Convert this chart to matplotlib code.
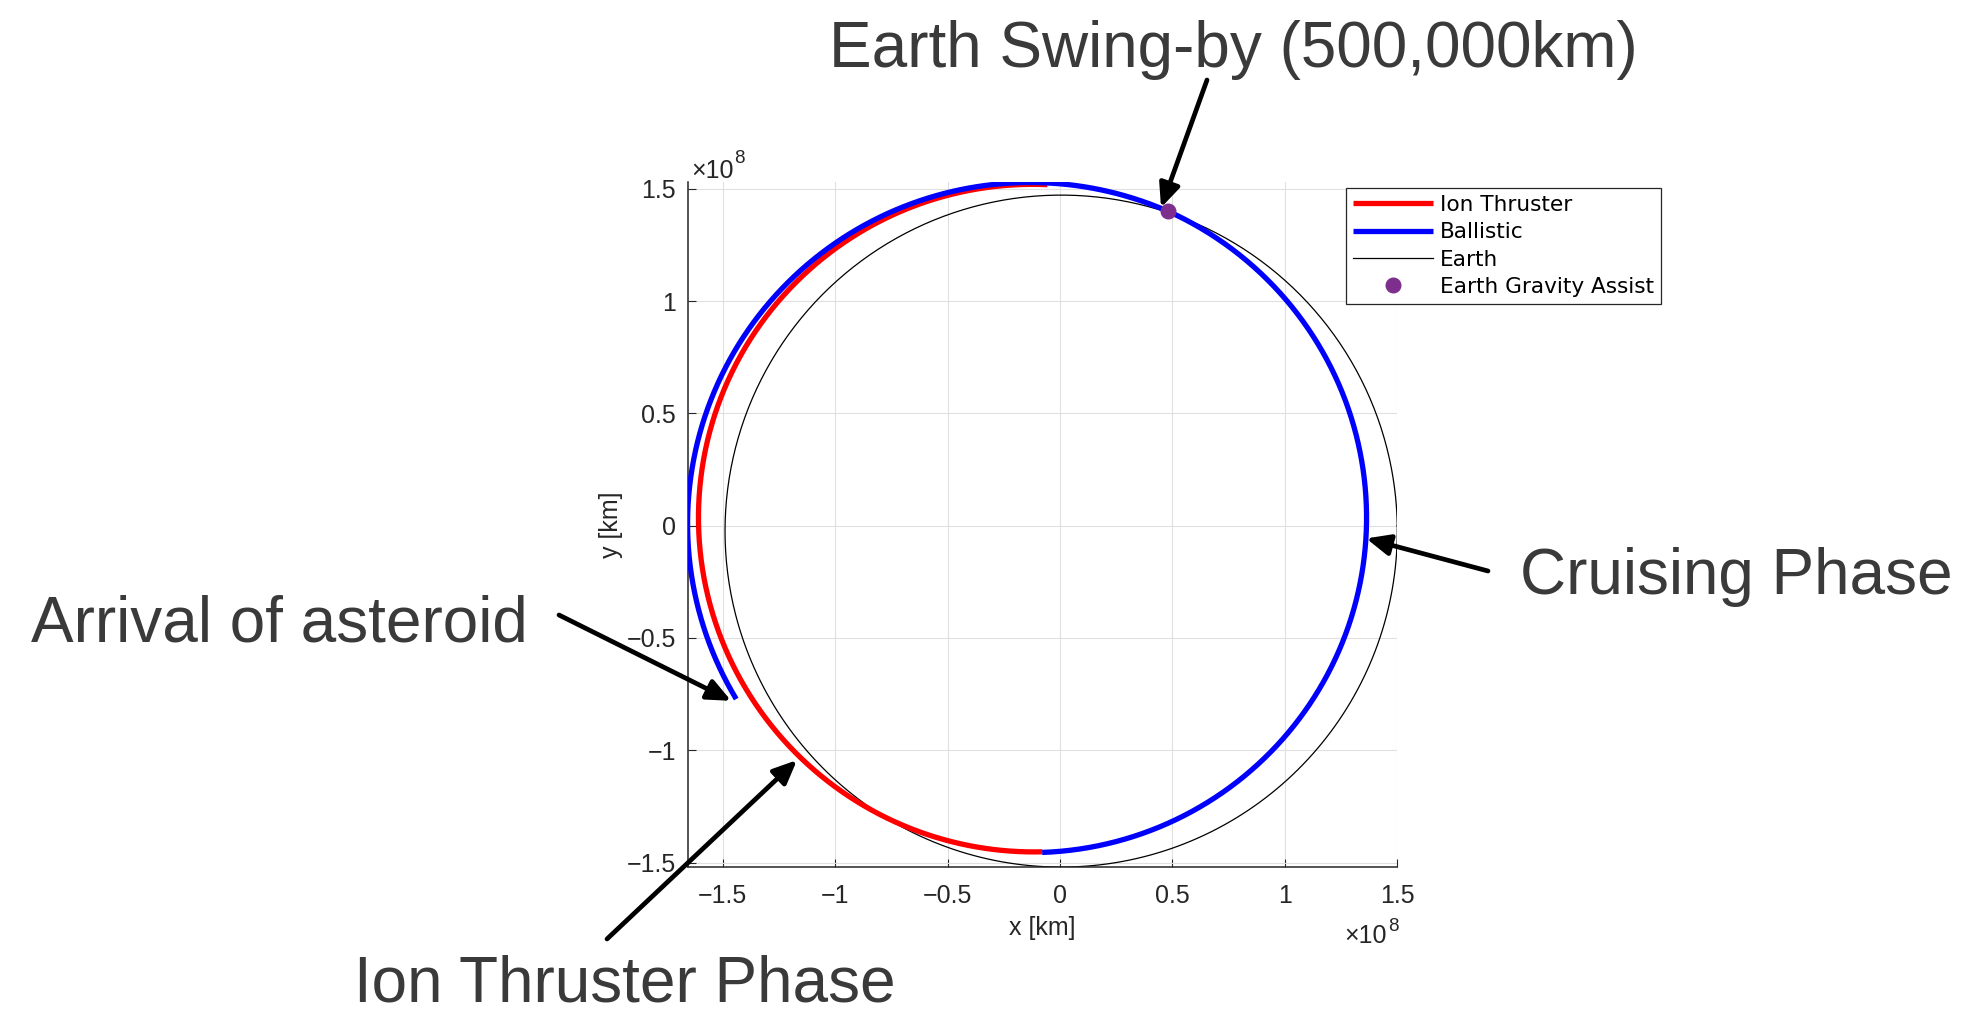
import numpy as np
import matplotlib
matplotlib.use("Agg")
import matplotlib.pyplot as plt
from matplotlib import font_manager
from matplotlib.ticker import MultipleLocator, FuncFormatter

# fonts: narrow sans for the axes (MATLAB look), plain sans for the slide texts
names = {f.name for f in font_manager.fontManager.ttflist}
narrow = 'Liberation Sans Narrow' if 'Liberation Sans Narrow' in names else 'Liberation Sans'
plt.rcParams['font.family'] = [narrow, 'DejaVu Sans']

# ---- data (km) ----
# Earth orbit elements
earth_a = 1.496e8
earth_e = 0.0167
earth_peri_deg = 102.9

# spacecraft arcs as heliocentric conics: r = p / (1 + e cos(theta - peri))
arc_kind = ['ion', 'ballistic', 'ballistic']
arc_p = [1.4808e8, 1.4877e8, 1.5142e8]
arc_e = [0.0822, 0.0942, 0.0863]
arc_peri_deg = [-15.8, -15.9, -3.4]
arc_start_deg = [92.1, -93.1, 71.0]
arc_end_deg = [266.9, 71.0, 208.2]

swingby_xy = (0.483e8, 1.399e8)

legend_labels = ['Ion Thruster', 'Ballistic', 'Earth', 'Earth Gravity Assist']

notes = ['Earth Swing-by (500,000km)', 'Cruising Phase', 'Arrival of asteroid', 'Ion Thruster Phase']
note_pos_px = [(829, 67), (1520, 594), (31, 642), (354, 1001)]     # text left / baseline
arrow_tip = [(0.450e8, 1.416e8), (1.363e8, -0.057e8), (-1.463e8, -0.780e8), (-1.170e8, -1.044e8)]
arrow_tail_px = [(1207, 80), (1488, 571), (559, 615), (607, 939)]

W, H = 1978, 1015

def fig_xy(p):
    return (p[0] / W, 1 - p[1] / H)

def conic(p, e, peri, t0, t1, n=600):
    th = np.radians(np.linspace(t0, t1, n))
    r = p / (1 + e * np.cos(th - np.radians(peri)))
    return r * np.cos(th), r * np.sin(th)

fig = plt.figure(figsize=(W / 100, H / 100), dpi=100)
ax = fig.add_axes([688 / W, 1 - 867 / H, 709 / W, 685 / H])

# Earth
ex, ey = conic(earth_a * (1 - earth_e ** 2), earth_e, earth_peri_deg, 0, 360)
h_earth, = ax.plot(ex, ey, color='black', lw=0.9, zorder=2)

handles = {}
for kind, p, e, w, t0, t1 in zip(arc_kind, arc_p, arc_e, arc_peri_deg, arc_start_deg, arc_end_deg):
    x, y = conic(p, e, w, t0, t1)
    col = 'red' if kind == 'ion' else 'blue'
    z = 3 if kind == 'ion' else 4
    h, = ax.plot(x, y, color=col, lw=3.8, zorder=z, solid_capstyle='butt')
    handles.setdefault(kind, h)

h_dot, = ax.plot(*swingby_xy, 'o', color='#7E2F8E', ms=10.5, zorder=6, ls='none')

ax.set_xlim(-1.655e8, 1.5e8)
ax.set_ylim(-1.52e8, 1.53e8)
ax.xaxis.set_major_locator(MultipleLocator(0.5e8))
ax.yaxis.set_major_locator(MultipleLocator(0.5e8))
fmt = FuncFormatter(lambda v, pos: ('%g' % (round(v / 1e8, 2) + 0.0)).replace('-', '\u2212'))
ax.xaxis.set_major_formatter(fmt)
ax.yaxis.set_major_formatter(fmt)

ax.grid(True, color='#e0e0e0', lw=0.8)
ax.set_axisbelow(True)
for s in ['top', 'right']:
    ax.spines[s].set_visible(False)
for s in ['left', 'bottom']:
    ax.spines[s].set_color('#262626')
    ax.spines[s].set_linewidth(1.1)
ax.tick_params(direction='in', length=5.5, width=0.8, color='#262626',
               labelsize=18, labelcolor='#262626')
ax.tick_params(axis='x', pad=12.5)
ax.tick_params(axis='y', pad=8.5)

ax.set_xlabel('x [km]', fontsize=18, color='#262626')
ax.set_ylabel('y [km]', fontsize=18, color='#262626')
ax.xaxis.set_label_coords(0.5, -0.071)
ax.yaxis.set_label_coords(-0.092, 0.5)

# x10^8 exponent labels
renderer = fig.canvas.get_renderer()
t1 = fig.text(691 / W, 1 - 178 / H, '\u00d710', fontsize=18, color='#262626', va='baseline')
bb = t1.get_window_extent(renderer)
fig.text((bb.x1 + 1) / W, 1 - 163 / H, '8', fontsize=13.5, color='#262626', va='baseline')
t2 = fig.text(1387 / W, 1 - 943 / H, '\u00d710', fontsize=18, color='#262626', va='baseline', ha='right')
fig.text(1388 / W, 1 - 931 / H, '8', fontsize=13.5, color='#262626', va='baseline', ha='left')

leg = ax.legend([handles['ion'], handles['ballistic'], h_earth, h_dot], legend_labels,
                loc='upper left', bbox_to_anchor=(1346 / W, 1 - 188 / H),
                bbox_transform=fig.transFigure, borderaxespad=0,
                prop={'family': ['DejaVu Sans'], 'size': 15.6},
                handlelength=3.7, handletextpad=0.3, labelspacing=0.34, borderpad=0.32,
                fancybox=False, framealpha=1, edgecolor='#262626')
leg.get_frame().set_linewidth(0.9)

# slide annotations
for txt, pos, tip, tail in zip(notes, note_pos_px, arrow_tip, arrow_tail_px):
    fig.text(*fig_xy(pos), txt, fontsize=46, color='#3a3a3a',
             family=['Liberation Sans', 'DejaVu Sans'], va='baseline', ha='left')
    ax.annotate('', xy=tip, xycoords='data', xytext=fig_xy(tail), textcoords='figure fraction',
                arrowprops=dict(arrowstyle='-|>,head_length=0.95,head_width=0.42', lw=3.4,
                                color='black', mutation_scale=15, shrinkA=0, shrinkB=0),
                annotation_clip=False, zorder=10)

fig.savefig('out.png', dpi=100)
